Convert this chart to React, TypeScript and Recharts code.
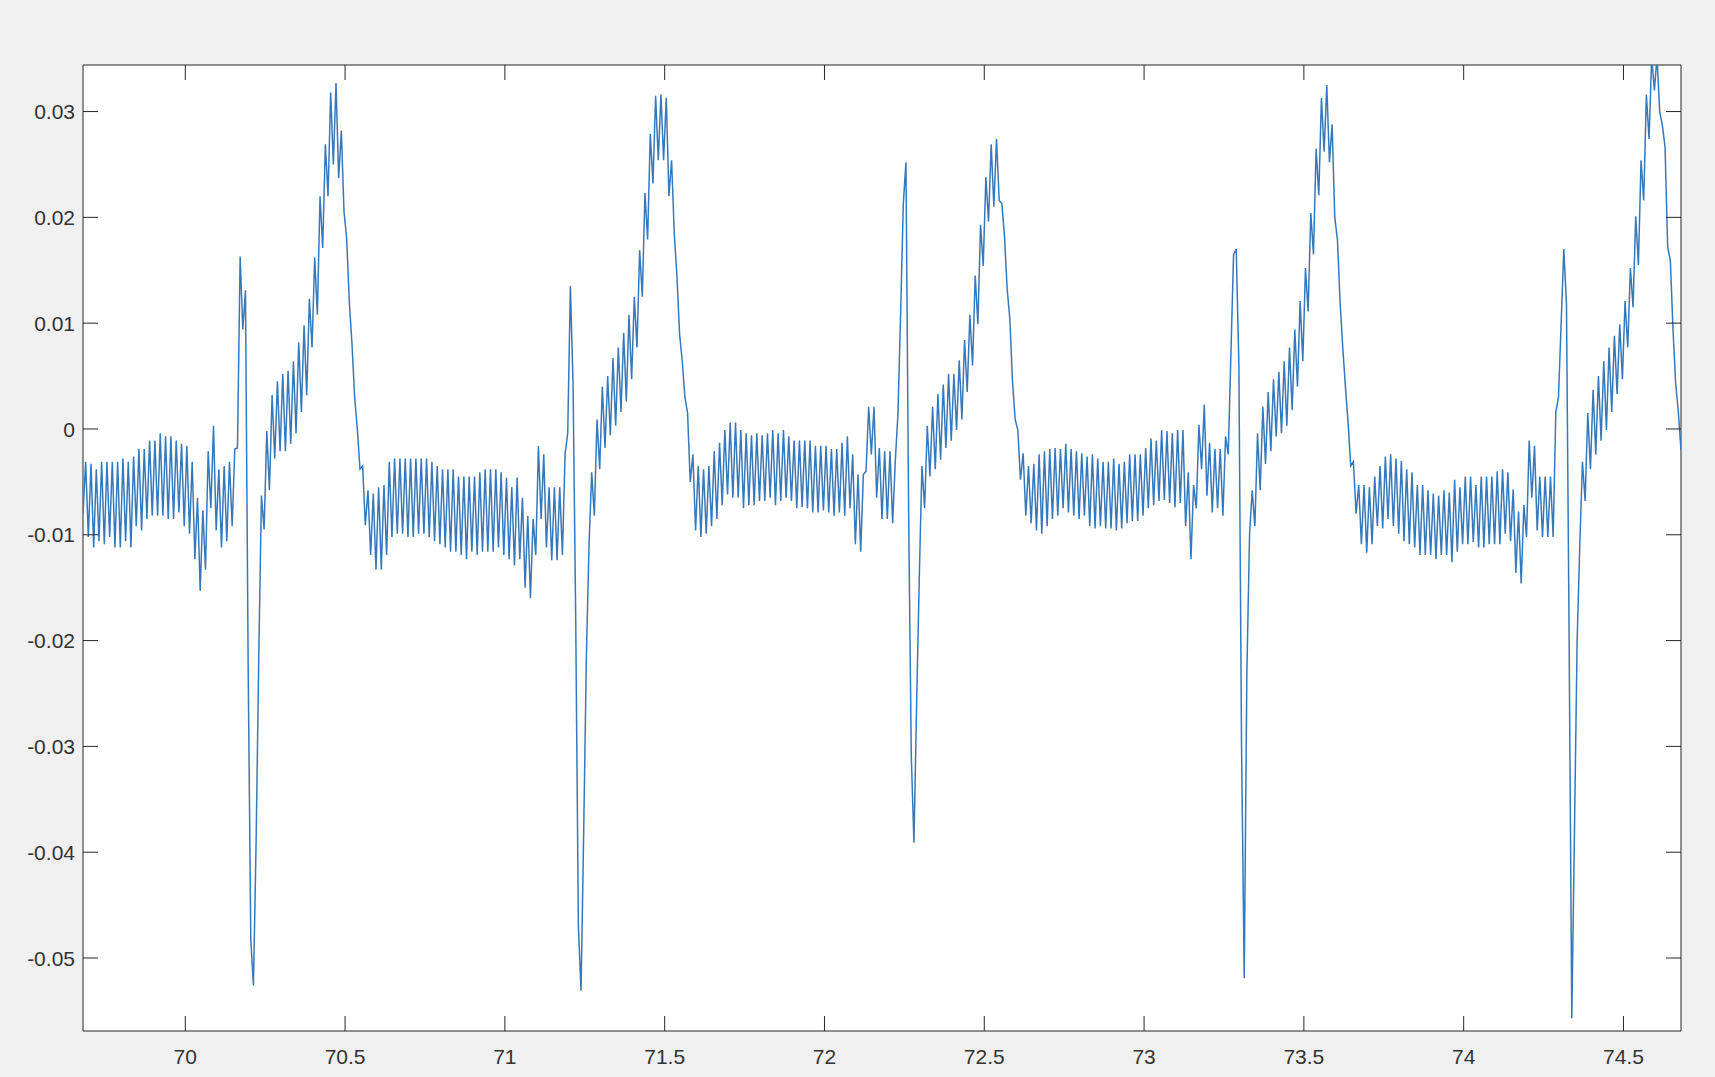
import { LineChart, Line, XAxis, YAxis, ReferenceArea } from "recharts"

// ECG trace, sampled at 120 Hz from 69.68 s (two samples per cycle of the mains hum)
// sample values are in units of 1e-4
const START_TIME = 69.68
const SAMPLE_RATE = 120
const SCALE = 1e-4

const seg1 = [
  -80, -31, -102, -33, -112, -38, -106, -31, -109, -31,
  -102, -31, -112, -31, -112, -28, -106, -31, -112, -26,
  -92, -19, -96, -19, -85, -11, -82, -11, -82, -4,
  -82, -7, -85, -7, -85, -11, -79, -14, -92, -16,
  -99, -31, -123, -65, -153, -77, -133, -21, -75, 3,
]
const seg2 = [
  -96, -38, -112, -35, -106, -31, -92, -19, -18, 163,
  94, 131, -220, -483, -526, -390, -215, -63, -95, -2,
  -58, 32, -28, 45, -21, 52, -21, 55, -14, 64,
  -4, 82, 16, 98, 32, 123, 77, 162, 108, 220,
  171, 269, 220, 318, 250, 327, 237, 282, 205, 180,
]
const seg3 = [
  120, 80, 30, 0, -38, -35, -91, -58, -119, -61,
  -133, -55, -133, -53, -119, -31, -102, -28, -99, -28,
  -99, -28, -102, -28, -102, -28, -99, -28, -99, -28,
  -102, -31, -106, -35, -109, -38, -112, -38, -116, -38,
  -116, -45, -119, -45, -123, -45, -116, -45, -119, -41,
]
const seg4 = [
  -116, -38, -116, -38, -116, -38, -112, -41, -119, -46,
  -123, -55, -129, -46, -123, -65, -150, -82, -160, -85,
  -119, -16, -85, -24, -112, -55, -124, -55, -124, -55,
  -119, -24, -4, 135, 43, -180, -470, -531, -380, -215,
  -110, -41, -82, 9, -38, 40, -18, 50, -6, 67,
]
const seg5 = [
  3, 77, 16, 91, 26, 108, 47, 125, 77, 169,
  125, 223, 179, 279, 232, 315, 254, 316, 254, 313,
  220, 254, 185, 145, 90, 64, 30, 15, -50, -24,
  -96, -35, -102, -38, -99, -35, -92, -21, -85, -13,
  -72, -1, -62, 6, -65, 6, -65, -1, -75, -4,
]
const seg6 = [
  -72, -6, -72, -4, -68, -6, -68, -4, -65, -1,
  -72, -4, -68, -1, -65, -7, -68, -11, -75, -11,
  -74, -11, -75, -11, -79, -16, -79, -16, -77, -16,
  -79, -19, -82, -19, -79, -13, -82, -7, -75, -24,
  -109, -43, -116, -43, -40, 21, -24, 21, -65, -18,
]
const seg7 = [
  -85, -21, -85, -21, -89, -30, 15, 110, 213, 252,
  -80, -310, -391, -260, -140, -35, -75, 3, -45, 21,
  -38, 33, -29, 42, -18, 52, -11, 52, -1, 65,
  9, 84, 35, 108, 60, 145, 99, 193, 154, 238,
  196, 269, 210, 274, 216, 213, 182, 132, 104, 45,
]
const seg8 = [
  9, -1, -48, -23, -82, -35, -89, -33, -96, -24,
  -99, -21, -92, -19, -85, -18, -82, -19, -75, -14,
  -79, -19, -82, -21, -85, -23, -82, -26, -92, -24,
  -94, -28, -92, -31, -94, -31, -94, -28, -96, -33,
  -94, -31, -89, -24, -87, -24, -87, -24, -82, -18,
]
const seg9 = [
  -75, -9, -72, -11, -68, -1, -67, -2, -70, -4,
  -74, -1, -70, -1, -92, -41, -123, -53, -75, 4,
  -38, 23, -63, -13, -79, -19, -75, -19, -82, -7,
  -24, 70, 165, 170, 60, -300, -519, -230, -100, -58,
  -92, -4, -58, 21, -33, 35, -21, 47, -7, 54,
]
const seg10 = [
  -4, 64, 3, 77, 18, 94, 40, 121, 64, 152,
  111, 204, 165, 265, 221, 313, 262, 325, 252, 288,
  200, 179, 120, 77, 40, 6, -35, -31, -80, -53,
  -109, -53, -117, -55, -109, -45, -92, -35, -94, -26,
  -85, -24, -92, -28, -99, -30, -106, -38, -109, -41,
]
const seg11 = [
  -112, -53, -119, -53, -119, -58, -119, -61, -123, -63,
  -119, -58, -119, -60, -126, -48, -116, -55, -109, -45,
  -109, -45, -107, -53, -112, -45, -112, -45, -109, -45,
  -109, -40, -109, -38, -99, -41, -106, -57, -136, -78,
  -146, -72, -102, -11, -65, -16, -96, -45, -102, -45,
]
const seg12 = [
  -102, -45, -102, 16, 30, 100, 170, 118, -200, -557,
  -380, -200, -110, -31, -68, 15, -38, 37, -24, 50,
  -11, 64, -1, 77, 16, 88, 33, 99, 47, 121,
  77, 152, 115, 201, 155, 254, 216, 316, 274, 352,
  320, 352, 300, 287, 267, 172, 159, 94, 43, 16,
  -20,
]

const X_TICKS = [70, 70.5, 71, 71.5, 72, 72.5, 73, 73.5, 74, 74.5]
const Y_TICKS = [-0.05, -0.04, -0.03, -0.02, -0.01, 0, 0.01, 0.02, 0.03]

const X_MIN = 69.68
const X_MAX = 74.68
const Y_MIN = -0.0569
const Y_MAX = 0.0344

const W = 1715
const H = 1077
const PLOT_LEFT = 83
const PLOT_RIGHT = 1681
const PLOT_TOP = 65
const PLOT_BOTTOM = 1031
const TICK_LEN = 15

const AXIS = "#262626"
const LABEL = "#333333"
const LINE = "#3579bc"
const FONT = "'Liberation Sans', Arial, sans-serif"

const samples = [seg1, seg2, seg3, seg4, seg5, seg6, seg7, seg8, seg9, seg10, seg11, seg12].flat()
const data = samples.map((v, i) => ({ t: START_TIME + i / SAMPLE_RATE, v: v * SCALE }))

function XTick(props: any) {
  const { x, payload } = props
  return (
    <g>
      <line x1={x} x2={x} y1={PLOT_BOTTOM} y2={PLOT_BOTTOM - TICK_LEN} stroke={AXIS} />
      <line x1={x} x2={x} y1={PLOT_TOP} y2={PLOT_TOP + TICK_LEN} stroke={AXIS} />
      <text x={x} y={PLOT_BOTTOM + 33} textAnchor="middle" fill={LABEL} fontSize={21} fontFamily={FONT}>
        {payload.value}
      </text>
    </g>
  )
}

function YTick(props: any) {
  const { y, payload } = props
  return (
    <g>
      <line x1={PLOT_LEFT} x2={PLOT_LEFT + TICK_LEN} y1={y} y2={y} stroke={AXIS} />
      <line x1={PLOT_RIGHT} x2={PLOT_RIGHT - TICK_LEN} y1={y} y2={y} stroke={AXIS} />
      <text x={PLOT_LEFT - 8} y={y} dy="0.36em" textAnchor="end" fill={LABEL} fontSize={21} fontFamily={FONT}>
        {payload.value}
      </text>
    </g>
  )
}

export default function App() {
  return (
    <div style={{ position: "fixed", left: 0, top: 0, width: W, height: H, background: "#f0f0f0" }}>
      <LineChart
        width={W}
        height={H}
        data={data}
        margin={{ top: PLOT_TOP, right: W - PLOT_RIGHT, bottom: H - PLOT_BOTTOM - 45, left: PLOT_LEFT - 80 }}
      >
        <ReferenceArea x1={X_MIN} x2={X_MAX} y1={Y_MIN} y2={Y_MAX} fill="#ffffff" fillOpacity={1} stroke="none" />
        <XAxis
          type="number"
          dataKey="t"
          domain={[X_MIN, X_MAX]}
          allowDataOverflow
          ticks={X_TICKS}
          interval={0}
          tickLine={false}
          axisLine={false}
          height={45}
          tick={<XTick />}
        />
        <YAxis
          type="number"
          domain={[Y_MIN, Y_MAX]}
          allowDataOverflow
          ticks={Y_TICKS}
          interval={0}
          tickLine={false}
          axisLine={false}
          width={80}
          tick={<YTick />}
        />
        <Line
          type="linear"
          dataKey="v"
          stroke={LINE}
          strokeWidth={1.5}
          dot={false}
          activeDot={false}
          isAnimationActive={false}
        />
        <ReferenceArea x1={X_MIN} x2={X_MAX} y1={Y_MIN} y2={Y_MAX} fill="none" stroke={AXIS} strokeWidth={1} />
      </LineChart>
    </div>
  )
}
